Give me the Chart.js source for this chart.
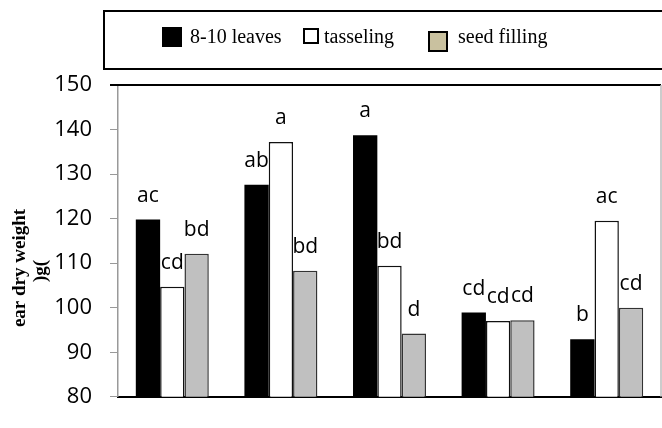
<!DOCTYPE html>
<html>
<head>
<meta charset="utf-8">
<script src="https://cdn.jsdelivr.net/npm/chart.js@4/dist/chart.umd.min.js"></script>
<style>
  html, body { margin: 0; padding: 0; background: #fff; }
  #wrap { position: relative; width: 662px; height: 428px; }
  #legend {
    position: absolute; left: 103px; top: 10px; width: 600px; height: 56px;
    border: 2px solid #000; box-sizing: content-box;
    font-family: "Liberation Serif", "Times New Roman", serif; font-size: 20px; color: #000;
  }
  #legend .sw { position: absolute; box-sizing: border-box; }
  #legend .tx { position: absolute; top: 12px; line-height: 24px; white-space: nowrap; }
</style>
</head>
<body>
<div id="wrap">
  <canvas id="chart" width="662" height="428"></canvas>
  <div id="legend"></div>
</div>
<script>
const categories = ['1', '2', '3', '4', '5'];
const seriesNames = ['8-10 leaves', 'tasseling', 'seed filling'];
const leaves = [119.8, 127.6, 138.7, 98.9, 92.9];
const tasseling = [104.7, 137.2, 109.4, 97.0, 119.5];
const seedFilling = [112.1, 108.3, 94.2, 97.2, 100.0];
const leavesLetters = ['ac', 'ab', 'a', 'cd', 'b'];
const tasselingLetters = ['cd', 'a', 'bd', 'cd', 'ac'];
const seedLetters = ['bd', 'bd', 'd', 'cd', 'cd'];
const yTicks = [80, 90, 100, 110, 120, 130, 140, 150];

// legend (html, to keep the odd swatch sizes of the original)
const legendEl = document.getElementById('legend');
const legendItems = [
  { name: seriesNames[0], sw: [57, 15, 20, 20], fill: '#000', border: '#000', tx: 85 },
  { name: seriesNames[1], sw: [198, 16, 16, 16], fill: '#fff', border: '#000', tx: 219 },
  { name: seriesNames[2], sw: [323, 19, 20, 21], fill: '#c9c19f', border: '#000', tx: 353 }
];
legendItems.forEach(item => {
  const sw = document.createElement('div');
  sw.className = 'sw';
  sw.style.left = item.sw[0] + 'px';
  sw.style.top = item.sw[1] + 'px';
  sw.style.width = item.sw[2] + 'px';
  sw.style.height = item.sw[3] + 'px';
  sw.style.background = item.fill;
  sw.style.border = '2px solid ' + item.border;
  legendEl.appendChild(sw);
  const tx = document.createElement('div');
  tx.className = 'tx';
  tx.style.left = item.tx + 'px';
  tx.textContent = item.name;
  legendEl.appendChild(tx);
});

const letters = [leavesLetters, tasselingLetters, seedLetters];

const letterPlugin = {
  id: 'letters',
  afterDatasetsDraw(chart) {
    const ctx = chart.ctx;
    ctx.save();
    ctx.font = '21px "Open Sans"';
    ctx.fillStyle = '#000';
    ctx.textAlign = 'center';
    ctx.textBaseline = 'middle';
    chart.data.datasets.forEach((ds, i) => {
      chart.getDatasetMeta(i).data.forEach((bar, j) => {
        ctx.fillText(letters[i][j], bar.x, bar.y - 24);
      });
    });
    ctx.restore();
  }
};

const framePlugin = {
  id: 'frame',
  afterDraw(chart) {
    const { ctx, chartArea } = chart;
    ctx.save();
    ctx.strokeStyle = '#000';
    ctx.lineWidth = 2;
    ctx.beginPath();
    ctx.moveTo(chartArea.left - 8, chartArea.top);
    ctx.lineTo(chartArea.right, chartArea.top);
    ctx.stroke();
    ctx.strokeStyle = '#bbb';
    ctx.lineWidth = 1.5;
    ctx.beginPath();
    ctx.moveTo(chartArea.right, chartArea.top);
    ctx.lineTo(chartArea.right, chartArea.bottom);
    ctx.stroke();

    // y title, two lines like the original
    ctx.fillStyle = '#000';
    ctx.font = 'bold 19px "Liberation Serif"';
    ctx.textAlign = 'center';
    ctx.textBaseline = 'middle';
    ctx.translate(20, 268);
    ctx.rotate(-Math.PI / 2);
    ctx.fillText('ear dry weight', 0, 0);
    ctx.fillText(')g(', -3, 21);
    ctx.restore();
  }
};

new Chart(document.getElementById('chart'), {
  type: 'bar',
  data: {
    labels: categories,
    datasets: [
      { label: seriesNames[0], data: leaves, backgroundColor: '#000', borderColor: '#000', borderWidth: 0 },
      { label: seriesNames[1], data: tasseling, backgroundColor: '#fff', borderColor: '#111', borderWidth: 1.5 },
      { label: seriesNames[2], data: seedFilling, backgroundColor: '#c0c0c0', borderColor: '#333', borderWidth: 1.5 }
    ]
  },
  options: {
    responsive: false,
    animation: false,
    layout: { padding: { top: 85, right: 1, left: 0, bottom: 0 } },
    datasets: { bar: { categoryPercentage: 0.672, barPercentage: 1 } },
    plugins: { legend: { display: false }, tooltip: { enabled: false } },
    scales: {
      x: {
        ticks: { display: false },
        grid: { display: false },
        border: { color: '#000', width: 2 },
        afterFit(scale) { scale.height = 10; }
      },
      y: {
        min: 80,
        max: 150,
        afterBuildTicks(scale) { scale.ticks = yTicks.map(v => ({ value: v })); },
        ticks: { color: '#000', padding: 18, font: { family: 'Open Sans', size: 22 } },
        grid: { drawOnChartArea: false, drawTicks: true, tickLength: 8, color: '#999' },
        border: { color: '#999', width: 1.5 },
        afterFit(scale) { scale.width = 118; }
      }
    }
  },
  plugins: [letterPlugin, framePlugin]
});
</script>
</body>
</html>
